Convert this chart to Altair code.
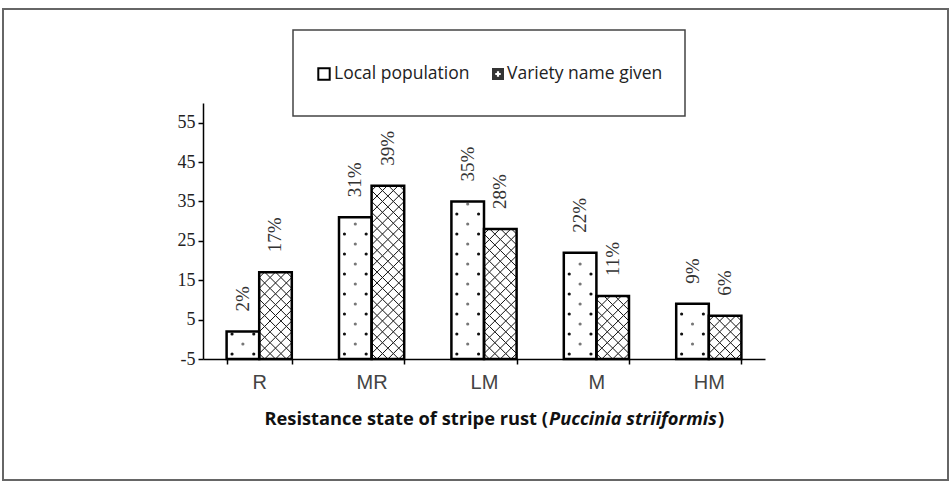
import altair as alt
import pandas as pd

# ---- data -------------------------------------------------------------
categories = ["R", "MR", "LM", "M", "HM"]
series = ["Local population", "Variety name given"]
local_pct = [2, 31, 35, 22, 9]
variety_pct = [17, 39, 28, 11, 6]
y_ticks = [-5, 5, 15, 25, 35, 45, 55]
title_parts = ["Resistance state of stripe rust (", "Puccinia striiformis", ")"]

# ---- geometry ---------------------------------------------------------
Y_MIN, Y_MAX = -5, 60
W, H = 562, 256
PAD_IN, PAD_OUT = 0.42, 0.21
UNIT = H / (Y_MAX - Y_MIN)                       # pixels per percentage point
CELL_PX = (W / len(categories)) * (1 - PAD_IN) / 6   # one third of a bar
DIAMOND_STEP = CELL_PX / UNIT                    # hatch period in data units
DOT_STEP = 10 / UNIT                             # dot row period in data units
sub_cols = ["L0", "L1", "L2", "V0", "V1", "V2"]

rows = []
for cat, a, b in zip(categories, local_pct, variety_pct):
    rows.append(dict(cat=cat, series=series[0], value=a, top=a + DIAMOND_STEP, label=f"{a}%"))
    rows.append(dict(cat=cat, series=series[1], value=b, top=b + DIAMOND_STEP, label=f"{b}%"))
bars = pd.DataFrame(rows)

# cross-hatch lattice for the "variety" bars
diamonds = []
for cat, v in zip(categories, variety_pct):
    j = 0
    while Y_MIN + j * DIAMOND_STEP < v:
        for c in range(3):
            diamonds.append(dict(cat=cat, sub=f"V{c}", y=Y_MIN + (j + 0.5) * DIAMOND_STEP))
        j += 1
diamonds = pd.DataFrame(diamonds)

# staggered dot fill for the "local population" bars
dots = []
for cat, v in zip(categories, local_pct):
    r = 0
    while Y_MIN + (r + 0.5) * DOT_STEP < v - 0.6:
        for c in ([0, 2] if r % 2 == 0 else [1]):
            dots.append(dict(cat=cat, sub=f"L{c}", y=Y_MIN + (r + 0.5) * DOT_STEP, shade=r % 2))
        r += 1
dots = pd.DataFrame(dots)

one = pd.DataFrame({"k": [0]})
legend_df = pd.DataFrame({"name": series, "sx": [121, 295], "tx": [131, 304]})
title_df = pd.DataFrame({"t1": [title_parts[0]], "t2": [title_parts[1]], "t3": [title_parts[2]]})

# ---- encodings --------------------------------------------------------
x_enc = alt.X(
    "cat:N", sort=categories,
    scale=alt.Scale(paddingInner=PAD_IN, paddingOuter=PAD_OUT),
    axis=alt.Axis(
        title=None, labelAngle=0, tickBand="extent", tickSize=5,
        labelFont="Liberation Sans", labelFontSize=20, labelColor="#444",
        labelPadding=8, domainColor="black", domainWidth=1.5,
        tickColor="black", tickWidth=1.5,
    ),
)
y_scale = alt.Scale(domain=[Y_MIN, Y_MAX], nice=False, zero=False)
y_axis = alt.Axis(
    values=y_ticks, title=None, grid=False, tickSize=5, labelPadding=3,
    labelExpr="'' + datum.value",
    labelFont="Liberation Serif", labelFontSize=18, labelColor="#222",
    domainColor="black", domainWidth=1.5, tickColor="black", tickWidth=1.5,
)
off_series = alt.XOffset("series:N", sort=series,
                         scale=alt.Scale(type="band", paddingInner=0, paddingOuter=0))
off_sub = alt.XOffset("sub:N", sort=sub_cols,
                      scale=alt.Scale(type="band", domain=sub_cols, paddingInner=0, paddingOuter=0))

# ---- outer frame ------------------------------------------------------
frame = alt.Chart(one).mark_rect(filled=False, stroke="#666", strokeWidth=2).encode(
    x=alt.value(-200), x2=alt.value(745), y=alt.value(-94), y2=alt.value(377)
)

# ---- bars ---------------------------------------------------------------
bar_fill = alt.Chart(bars).mark_bar(fill="white", strokeWidth=0).encode(
    x=x_enc, xOffset=off_series,
    y=alt.Y("value:Q", scale=y_scale, axis=y_axis), y2=alt.datum(Y_MIN),
)

hatch = alt.Chart(diamonds).mark_point(
    shape="diamond", size=CELL_PX ** 2, filled=False, stroke="#111", strokeWidth=1, opacity=1
).encode(x=x_enc, xOffset=off_sub, y=alt.Y("y:Q", scale=y_scale))

dot_fill = alt.Chart(dots).mark_circle(size=10, opacity=1).encode(
    x=x_enc, xOffset=off_sub, y=alt.Y("y:Q", scale=y_scale),
    color=alt.Color("shade:N", scale=alt.Scale(domain=[0, 1], range=["#111", "#777"]), legend=None),
)

# trims the hatch rows that poke out above the bar tops
trim = alt.Chart(bars).mark_bar(fill="white", strokeWidth=0).encode(
    x=x_enc, xOffset=off_series,
    y=alt.Y("value:Q", scale=y_scale), y2="top:Q",
)

outline = alt.Chart(bars).mark_bar(filled=False, stroke="black", strokeWidth=2.5).encode(
    x=x_enc, xOffset=off_series,
    y=alt.Y("value:Q", scale=y_scale), y2=alt.datum(Y_MIN),
)

labels = alt.Chart(bars).mark_text(
    angle=270, align="left", baseline="middle", dx=20,
    font="Liberation Serif", fontSize=19, color="#333",
).encode(
    x=x_enc, xOffset=off_series,
    y=alt.Y("value:Q", scale=y_scale), text="label:N",
)

# ---- legend -------------------------------------------------------------
legend_box = alt.Chart(one).mark_rect(fill="white", stroke="#444", strokeWidth=1.5).encode(
    x=alt.value(90), x2=alt.value(482), y=alt.value(-73), y2=alt.value(13)
)
leg_local = alt.Chart(legend_df.iloc[[0]]).mark_point(
    shape="square", size=130, filled=False, stroke="black", strokeWidth=2, opacity=1
).encode(x=alt.X("sx:Q", scale=None), y=alt.value(-29))
leg_var = alt.Chart(legend_df.iloc[[1]]).mark_point(
    shape="square", size=144, filled=True, fill="#333", strokeWidth=0, opacity=1
).encode(x=alt.X("sx:Q", scale=None), y=alt.value(-29))
leg_var_mark = alt.Chart(legend_df.iloc[[1]]).mark_point(
    shape="cross", size=30, filled=True, fill="white", strokeWidth=0, opacity=1
).encode(x=alt.X("sx:Q", scale=None), y=alt.value(-29))
leg_text = alt.Chart(legend_df).mark_text(
    align="left", baseline="middle", font="Open Sans", fontSize=17.5, color="#222"
).encode(x=alt.X("tx:Q", scale=None), y=alt.value(-29), text="name:N")

# ---- x-axis title with italic species name -----------------------------
TX = 345
TFS = 18.3
t1 = alt.Chart(title_df).mark_text(
    align="right", baseline="middle", font="Open Sans", fontSize=TFS, fontWeight="bold", color="#111"
).encode(x=alt.value(TX), y=alt.value(317), text="t1:N")
t2 = alt.Chart(title_df).mark_text(
    align="left", baseline="middle", font="Open Sans", fontSize=TFS, fontWeight="bold",
    fontStyle="italic", color="#111"
).encode(x=alt.value(TX + 1), y=alt.value(317), text="t2:N")
t3 = alt.Chart(title_df).mark_text(
    align="left", baseline="middle", font="Open Sans", fontSize=TFS, fontWeight="bold", color="#111"
).encode(x=alt.value(TX + 170), y=alt.value(317), text="t3:N")

chart = alt.layer(
    frame, bar_fill, dot_fill, hatch, trim, outline, labels,
    legend_box, leg_local, leg_var, leg_var_mark, leg_text, t1, t2, t3,
).resolve_scale(
    xOffset="independent"
).properties(
    width=W, height=H,
    autosize=alt.AutoSizeParams(type="none"),
    padding={"left": 203, "top": 103, "right": 187, "bottom": 123},
).configure_view(stroke=None)

chart.save("out.html", embed_options={"renderer": "svg", "actions": False})
